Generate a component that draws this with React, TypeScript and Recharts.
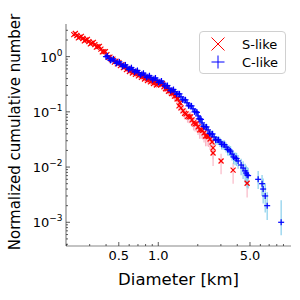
import React from 'react';
import { ScatterChart, Scatter, XAxis, YAxis, ErrorBar, Legend, Label } from 'recharts';

// S-like craters (red x): centre of the band, then points along its edges
const redD = [0.227, 0.2395, 0.2525, 0.2662, 0.2806, 0.2958, 0.3118, 0.3287, 0.3465, 0.3653, 0.385, 0.4059, 0.4279, 0.451, 0.4755, 0.5012, 0.5284, 0.5569, 0.5871, 0.6189, 0.6524, 0.6878, 0.725, 0.7642, 0.8056, 0.8492, 0.8952, 0.9437, 0.9947, 1.049, 1.105, 1.165, 1.228, 1.295, 1.365, 1.414, 1.464, 1.49, 1.543, 1.627, 1.715, 1.808, 1.906, 2.01, 2.118, 2.233, 2.354, 2.481, 2.57, 2.616, 2.616, 3.01, 3.718, 4.755];
const redN = [2.51, 2.41, 2.26, 2.13, 2.0, 1.87, 1.76, 1.65, 1.52, 1.37, 1.23, 1.09, 0.98, 0.9, 0.83, 0.78, 0.715, 0.658, 0.605, 0.568, 0.534, 0.501, 0.471, 0.442, 0.415, 0.39, 0.366, 0.344, 0.323, 0.31, 0.285, 0.262, 0.241, 0.217, 0.195, 0.172, 0.146, 0.118, 0.104, 0.0919, 0.0811, 0.0715, 0.0605, 0.0534, 0.0471, 0.0415, 0.0366, 0.0323, 0.0285, 0.0222, 0.018, 0.0129, 0.0088, 0.0051];
const redErr = [0.106, 0.104, 0.101, 0.098, 0.095, 0.092, 0.089, 0.086, 0.083, 0.079, 0.074, 0.07, 0.066, 0.064, 0.061, 0.059, 0.057, 0.054, 0.052, 0.051, 0.049, 0.047, 0.046, 0.045, 0.043, 0.042, 0.041, 0.039, 0.038, 0.037, 0.036, 0.034, 0.033, 0.031, 0.03, 0.028, 0.026, 0.023, 0.022, 0.02, 0.019, 0.018, 0.0165, 0.0155, 0.0146, 0.0137, 0.0128, 0.012, 0.0113, [0.0085, 0.0075], [0.0075, 0.0065], [0.0055, 0.0045], [0.0038, 0.0032], [0.0023, 0.0021]];
const redEdgeD = [0.2333, 0.2459, 0.2592, 0.2733, 0.2881, 0.3037, 0.3201, 0.3374, 0.3557, 0.375, 0.3953, 0.4167, 0.4392, 0.463, 0.4881, 0.5145, 0.5424, 0.5718, 0.6028, 0.6354, 0.6698, 0.7061, 0.7443, 0.7846, 0.8271, 0.872, 0.9191, 0.9689, 1.021, 1.077, 1.135, 1.196, 1.261, 1.329, 1.389, 1.439, 1.585, 1.671, 1.762, 1.857, 1.957, 2.063, 2.175, 2.293, 2.417];
const redEdgeN = [2.62, 2.193, 2.334, 1.934, 2.059, 1.705, 1.816, 1.488, 1.536, 1.22, 1.233, 0.969, 0.882, 0.794, 0.738, 0.686, 0.631, 0.58, 0.539, 0.506, 0.476, 0.447, 0.42, 0.394, 0.37, 0.348, 0.326, 0.306, 0.344, 0.323, 0.262, 0.236, 0.215, 0.193, 0.172, 0.1285, 0.0939, 0.0828, 0.0811, 0.0631, 0.0605, 0.0471, 0.0461, 0.0366, 0.0358];
const redEdgeErr = [0.109, 0.099, 0.102, 0.093, 0.096, 0.088, 0.09, 0.082, 0.083, 0.074, 0.074, 0.066, 0.063, 0.06, 0.058, 0.056, 0.053, 0.051, 0.049, 0.048, 0.046, 0.045, 0.043, 0.042, 0.041, 0.04, 0.038, 0.037, 0.039, 0.038, 0.034, 0.033, 0.031, 0.029, 0.028, 0.024, 0.021, 0.019, 0.019, 0.017, 0.0165, 0.0146, 0.0144, 0.0128, 0.0127];

// C-like craters (blue +)
const blueD = [0.399, 0.4205, 0.4432, 0.4672, 0.4926, 0.5192, 0.5473, 0.5769, 0.6081, 0.6409, 0.6756, 0.7121, 0.7506, 0.7915, 0.8341, 0.8797, 0.9273, 0.9775, 1.03, 1.086, 1.145, 1.207, 1.272, 1.341, 1.414, 1.49, 1.571, 1.656, 1.746, 1.84, 1.94, 2.01, 2.081, 2.156, 2.273, 2.395, 2.525, 2.662, 2.806, 2.958, 3.118, 3.287, 3.465, 3.652, 3.85, 4.059, 4.279, 4.431, 4.591, 4.673, 4.755, 4.84, 5.77, 6.18, 6.3, 6.53, 6.76, 8.64];
const blueN = [1.0, 0.939, 0.882, 0.828, 0.778, 0.73, 0.686, 0.644, 0.605, 0.58, 0.545, 0.512, 0.481, 0.461, 0.433, 0.415, 0.398, 0.374, 0.351, 0.33, 0.297, 0.268, 0.246, 0.231, 0.212, 0.1874, 0.1652, 0.1458, 0.1285, 0.1134, 0.1, 0.0846, 0.0746, 0.0631, 0.0534, 0.0471, 0.0398, 0.0351, 0.031, 0.0285, 0.0256, 0.0231, 0.0204, 0.0172, 0.0146, 0.0129, 0.0109, 0.0096, 0.0085, 0.0078, 0.0072, 0.007, 0.006, 0.005, 0.004, 0.003, 0.002, 0.001];
const blueErr = [0.032, 0.031, 0.03, 0.029, 0.028, 0.027, 0.026, 0.025, 0.025, 0.024, 0.023, 0.023, 0.022, 0.021, 0.021, 0.02, 0.02, 0.019, 0.019, 0.018, 0.017, 0.016, 0.016, 0.015, 0.015, 0.014, 0.013, 0.012, 0.011, 0.011, 0.01, 0.0092, 0.0086, 0.0079, 0.0073, 0.0069, 0.0063, 0.0059, 0.0056, 0.0053, 0.0051, 0.0048, 0.0045, 0.0041, 0.0038, 0.0036, [0.0038, 0.0033], [0.0035, 0.0031], [0.0033, 0.003], [0.0031, 0.0029], [0.003, 0.0028], [0.0029, 0.0027], [0.002, 0.0025], [0.002, 0.0022], [0.0018, 0.0022], [0.0015, 0.0021], [0.0009, 0.0015], [0.00042, 0.0015]];
const blueEdgeD = [0.4095, 0.4316, 0.455, 0.4797, 0.5057, 0.533, 0.5618, 0.5923, 0.6244, 0.6582, 0.6939, 0.7313, 0.7709, 0.8126, 0.8567, 0.9031, 0.9519, 1.004, 1.058, 1.115, 1.175, 1.239, 1.306, 1.377, 1.451, 1.53, 1.613, 1.7, 1.792, 1.889, 1.974, 2.045, 2.118, 2.213, 2.333, 2.459, 2.593, 2.733, 2.881, 3.037, 3.201, 3.374, 3.557, 3.75, 3.953];
const blueEdgeN = [1.032, 0.855, 0.91, 0.754, 0.803, 0.665, 0.708, 0.586, 0.631, 0.528, 0.562, 0.466, 0.501, 0.42, 0.451, 0.382, 0.411, 0.34, 0.362, 0.294, 0.3, 0.241, 0.254, 0.208, 0.212, 0.1652, 0.1652, 0.1285, 0.1285, 0.1, 0.0979, 0.0746, 0.0731, 0.0545, 0.0534, 0.0406, 0.0398, 0.031, 0.031, 0.0259, 0.0254, 0.0208, 0.0195, 0.0152, 0.0143];
const blueEdgeErr = [0.032, 0.029, 0.03, 0.027, 0.028, 0.026, 0.027, 0.024, 0.025, 0.023, 0.024, 0.022, 0.022, 0.02, 0.021, 0.02, 0.02, 0.018, 0.019, 0.017, 0.017, 0.016, 0.016, 0.014, 0.015, 0.013, 0.013, 0.011, 0.011, 0.01, 0.0099, 0.0086, 0.0085, 0.0074, 0.0073, 0.0064, 0.0063, 0.0056, 0.0056, 0.0051, 0.005, 0.0046, 0.0044, 0.0039, 0.0038];

const xMajor = [0.5, 1, 5];
const xMinor = [0.2, 0.3, 0.4, 0.6, 0.7, 0.8, 0.9, 2, 3, 4, 6, 7, 8, 9];
const yMajor = [0.001, 0.01, 0.1, 1];
const yMinor = [0.0004, 0.0005, 0.0006, 0.0007, 0.0008, 0.0009, 0.002, 0.003, 0.004, 0.005, 0.006, 0.007, 0.008, 0.009, 0.02, 0.03, 0.04, 0.05, 0.06, 0.07, 0.08, 0.09, 0.2, 0.3, 0.4, 0.5, 0.6, 0.7, 0.8, 0.9, 2, 3];

const FONT = 'DejaVu Sans';
const FRAME = '#888';
const TICK = '#333';

const toRows = (ds: number[], ns: number[], errs: any[]) => ds.map((d, i) => ({ d, n: ns[i], err: errs[i] }));
const redData = [...toRows(redD, redN, redErr), ...toRows(redEdgeD, redEdgeN, redEdgeErr)];
const blueData = [...toRows(blueD, blueN, blueErr), ...toRows(blueEdgeD, blueEdgeN, blueEdgeErr)];

function XMark({ cx, cy }: any) {
  const s = 2.5;
  return (
    <g stroke="red" strokeWidth={1.2}>
      <line x1={cx - s} y1={cy - s} x2={cx + s} y2={cy + s} />
      <line x1={cx - s} y1={cy + s} x2={cx + s} y2={cy - s} />
    </g>
  );
}

function PlusMark({ cx, cy }: any) {
  const s = 3;
  return (
    <g stroke="blue" strokeWidth={1.2}>
      <line x1={cx - s} y1={cy} x2={cx + s} y2={cy} />
      <line x1={cx} y1={cy - s} x2={cx} y2={cy + s} />
    </g>
  );
}

function XTick({ x, y, payload, side }: any) {
  const v = payload.value;
  const major = xMajor.includes(v);
  const len = major ? 4 : 2;
  const dir = side === 'top' ? 1 : -1;
  return (
    <g>
      <line x1={x} x2={x} y1={y} y2={y + dir * len} stroke={TICK} strokeWidth={0.8} />
      {major && side !== 'top' && (
        <text x={x} y={y + 14} textAnchor="middle" fontSize={13} fontFamily={FONT} fill="#000">
          {v.toFixed(1)}
        </text>
      )}
    </g>
  );
}

function YTick({ x, y, payload, side }: any) {
  const v = payload.value;
  const major = yMajor.includes(v);
  const len = major ? 4 : 2;
  const dir = side === 'right' ? -1 : 1;
  const exp = Math.round(Math.log10(v));
  return (
    <g>
      <line x1={x} x2={x + dir * len} y1={y} y2={y} stroke={TICK} strokeWidth={0.8} />
      {major && side !== 'right' && (
        <text x={x - 3.5} y={y + 5} textAnchor="end" fontSize={13} fontFamily={FONT} fill="#000">
          10
          <tspan dy={-6} fontSize={9}>{exp < 0 ? '\u2212' + -exp : String(exp)}</tspan>
        </text>
      )}
    </g>
  );
}

function renderLegend() {
  return (
    <div style={{ width: 87, height: 43, boxSizing: 'border-box', border: '1px solid #d0d0d0', borderRadius: 4, background: 'rgba(255,255,255,0.85)', position: 'relative' }}>
      <svg width={87} height={43} style={{ position: 'absolute', left: -1, top: -1 }}>
        <g stroke="red" strokeWidth={1}>
          <line x1={12.5} y1={6.5} x2={25.5} y2={19.5} />
          <line x1={12.5} y1={19.5} x2={25.5} y2={6.5} />
        </g>
        <text x={43} y={17.7} fontSize={13} fontFamily={FONT} fill="#000">S-like</text>
        <g stroke="blue" strokeWidth={1}>
          <line x1={12.5} y1={31} x2={25.5} y2={31} />
          <line x1={19} y1={24.5} x2={19} y2={37.5} />
        </g>
        <text x={43} y={35.7} fontSize={13} fontFamily={FONT} fill="#000">C-like</text>
      </svg>
    </div>
  );
}

export default function App() {
  const xDomain = [0.198, 10.27];
  const yDomain = [0.000372, 3.9];
  return (
    <div style={{ position: 'absolute', left: 0, top: 0 }}>
      <ScatterChart width={300} height={300} margin={{ top: 24, right: 9, bottom: 0, left: 0 }}>
        <XAxis
          dataKey="d" type="number" scale="log" domain={xDomain} allowDataOverflow
          ticks={[...xMinor, ...xMajor]} interval={0} tickSize={0} tickMargin={0} tickLine={false}
          axisLine={{ stroke: FRAME, strokeWidth: 1.2 }} tick={<XTick side="bottom" />} height={54}
        >
          <Label
            content={({ viewBox }: any) => (
              <text x={viewBox.x + viewBox.width / 2} y={285} textAnchor="middle" fontSize={16.5} fontFamily={FONT} fill="#000">
                Diameter [km]
              </text>
            )}
          />
        </XAxis>
        <XAxis
          xAxisId="top" orientation="top" type="number" scale="log" domain={xDomain} allowDataOverflow
          ticks={[...xMinor, ...xMajor]} interval={0} tickSize={0} tickMargin={0} tickLine={false}
          axisLine={{ stroke: FRAME, strokeWidth: 1.2 }} tick={<XTick side="top" />} height={0}
        >
          <Label
            content={({ viewBox }: any) => (
              <text x={viewBox.x + viewBox.width / 2} y={20} textAnchor="middle" fontSize={13} fontFamily={FONT} fill="#000">
                (a) Whole region
              </text>
            )}
          />
        </XAxis>
        <YAxis
          dataKey="n" type="number" scale="log" domain={yDomain} allowDataOverflow
          ticks={[...yMinor, ...yMajor]} interval={0} tickSize={0} tickMargin={0} tickLine={false}
          axisLine={{ stroke: FRAME, strokeWidth: 1.2 }} tick={<YTick side="left" />} width={66}
        >
          <Label
            content={() => (
              <text x={20} y={132} transform="rotate(-90 20 132)" textAnchor="middle" fontSize={15} fontFamily={FONT} fill="#000">
                Normalized cumulative number
              </text>
            )}
          />
        </YAxis>
        <YAxis
          yAxisId="right" orientation="right" type="number" scale="log" domain={yDomain} allowDataOverflow
          ticks={[...yMinor, ...yMajor]} interval={0} tickSize={0} tickMargin={0} tickLine={false}
          axisLine={{ stroke: FRAME, strokeWidth: 1.2 }} tick={<YTick side="right" />} width={0}
        />
        <Legend
          layout="vertical" align="center" verticalAlign="middle" content={renderLegend}
          wrapperStyle={{ left: 199, top: 31, width: 87, height: 43 }}
        />
        <Scatter name="S-like" data={redData} fill="red" shape={<XMark />} isAnimationActive={false}>
          <ErrorBar dataKey="err" direction="y" width={0} stroke="#f9b8c6" strokeWidth={1.2} />
        </Scatter>
        <Scatter name="C-like" data={blueData} fill="blue" shape={<PlusMark />} isAnimationActive={false}>
          <ErrorBar dataKey="err" direction="y" width={0} stroke="#87ceeb" strokeWidth={1.2} />
        </Scatter>
      </ScatterChart>
    </div>
  );
}
